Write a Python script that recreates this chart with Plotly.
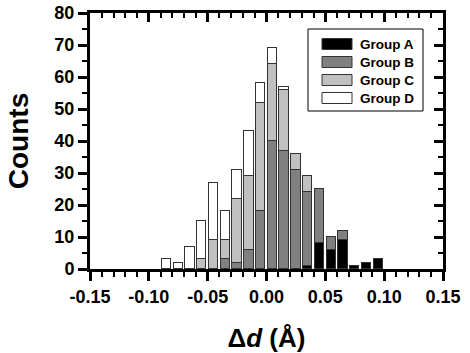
import plotly.graph_objects as go

# ---- data ----
bin_centers = [-0.085, -0.075, -0.065, -0.055, -0.045, -0.035, -0.025, -0.015, -0.005,
               0.005, 0.015, 0.025, 0.035, 0.045, 0.055, 0.065, 0.075, 0.085, 0.095]
group_a = [0, 0, 0, 0, 0, 0, 0, 0, 0, 0, 0, 0, 1, 8, 6, 9, 1, 2, 3]
group_b = [0, 0, 0, 0, 0, 3, 2, 6, 18, 40, 37, 31, 23, 17, 4, 3, 0, 0, 0]
group_c = [0, 0, 0, 3, 9, 6, 20, 23, 34, 24, 19, 5, 5, 0, 0, 0, 0, 0, 0]
group_d = [3, 2, 7, 12, 18, 9, 9, 14, 6, 5, 1, 0, 0, 0, 0, 0, 0, 0, 0]
group_names = ["Group A", "Group B", "Group C", "Group D"]
group_colors = ["#000000", "#808080", "#c0c0c0", "#ffffff"]
x_label_alias = {"\u22120.15": "-0.15", "\u22120.10": "-0.10", "\u22120.05": "-0.05"}

FONT = "Liberation Sans, Arial, sans-serif"
W, H = 470, 353
L, R, T, B = 90, 443, 13, 269

def px(x):
    return (x - L) / (R - L)

def py(y):
    return (B - y) / (B - T)

fig = go.Figure()
for name, vals, col in zip(group_names, [group_a, group_b, group_c, group_d], group_colors):
    fig.add_trace(go.Bar(
        x=bin_centers, y=[v if v else None for v in vals], name=name,
        width=0.008, marker=dict(color=col, line=dict(color="#333333", width=1)),
        showlegend=False,
    ))
# invisible helper trace so the mirrored (inside-tick) axes exist
fig.add_trace(go.Scatter(x=bin_centers, y=group_a, xaxis="x2", yaxis="y2",
                         mode="none", hoverinfo="skip", showlegend=False))

axis_common = dict(showline=True, linecolor="black", linewidth=3, showgrid=False, zeroline=False,
                   tickcolor="black", tickwidth=2.5, ticklen=9, automargin=False)

fig.update_layout(
    width=W, height=H, barmode="stack", bargap=0,
    margin=dict(l=L, r=W - R, t=T, b=H - B),
    paper_bgcolor="white", plot_bgcolor="white",
    font=dict(family=FONT, color="black"),
    xaxis=dict(range=[-0.15, 0.15], tickmode="linear", tick0=-0.15, dtick=0.05,
               tickformat=".2f", ticks="outside", labelalias=x_label_alias,
               tickfont=dict(size=18, family=FONT, weight="bold"),
               minor=dict(dtick=0.01, ticks="outside", ticklen=5, tickwidth=2, tickcolor="black"),
               title=dict(text="Δ<b><i>d</i></b> (Å)", font=dict(size=26, family=FONT, weight="bold"),
                          standoff=24),
               **axis_common),
    yaxis=dict(range=[0, 80], tickmode="linear", tick0=0, dtick=10, ticks="outside",
               tickfont=dict(size=18, family=FONT, weight="bold"),
               minor=dict(dtick=5, ticks="outside", ticklen=5, tickwidth=2, tickcolor="black"),
               title=dict(text="Counts", font=dict(size=28, family=FONT, weight="bold"),
                          standoff=18),
               **axis_common),
    xaxis2=dict(overlaying="x", side="top", anchor="y", range=[-0.15, 0.15],
                tickmode="linear", tick0=-0.15, dtick=0.05, showticklabels=False, ticks="inside",
                minor=dict(dtick=0.01, ticks="inside", ticklen=5, tickwidth=2, tickcolor="black"),
                **axis_common),
    yaxis2=dict(overlaying="y", side="right", anchor="x", range=[0, 80],
                tickmode="linear", tick0=0, dtick=10, showticklabels=False, ticks="inside",
                minor=dict(dtick=5, ticks="inside", ticklen=5, tickwidth=2, tickcolor="black"),
                **axis_common),
)

# custom legend (wide swatches like the original)
shapes = [dict(type="rect", xref="paper", yref="paper", x0=px(308), x1=px(423),
               y0=py(111), y1=py(29), line=dict(color="black", width=1), fillcolor="white",
               layer="above")]
annotations = []
row_centers = [44, 62, 80, 98]
for name, col, yc in zip(group_names, group_colors, row_centers):
    shapes.append(dict(type="rect", xref="paper", yref="paper", x0=px(322), x1=px(352),
                       y0=py(yc + 5.5), y1=py(yc - 5.5), fillcolor=col,
                       line=dict(color="#333333", width=1), layer="above"))
    annotations.append(dict(xref="paper", yref="paper", x=px(358), y=py(yc), text=name,
                            showarrow=False, xanchor="left", yanchor="middle",
                            font=dict(size=13.5, family=FONT, weight="bold", color="black")))
fig.update_layout(shapes=shapes, annotations=annotations)

fig.write_html("out.html", post_script="document.body.style.margin='0';",
               config={"displayModeBar": False})
